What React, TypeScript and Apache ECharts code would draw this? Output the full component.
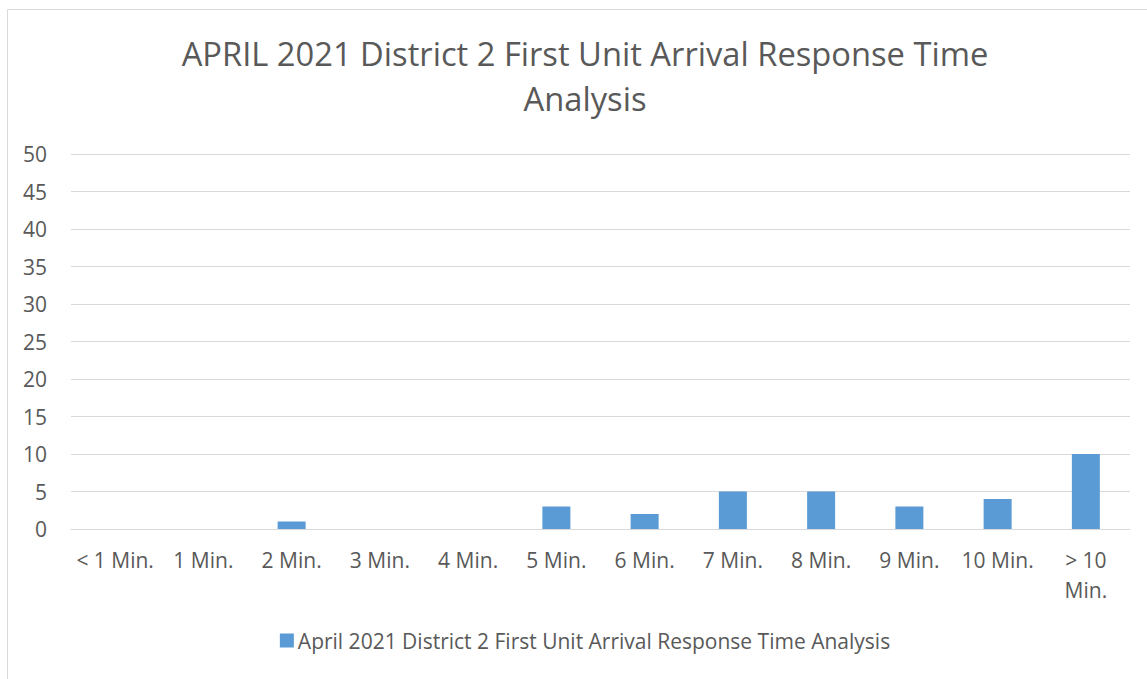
import React, { useEffect, useRef } from "react";
import * as echarts from "echarts";

const categories = ["< 1 Min.", "1 Min.", "2 Min.", "3 Min.", "4 Min.", "5 Min.", "6 Min.", "7 Min.", "8 Min.", "9 Min.", "10 Min.", "> 10 Min."];
const values = [0, 0, 1, 0, 0, 3, 2, 5, 5, 3, 4, 10];
const seriesName = "April 2021 District 2 First Unit Arrival Response Time Analysis";
const titleText = "APRIL 2021 District 2 First Unit Arrival Response Time\nAnalysis";

const FONT = "Open Sans";
const GREY = "#595959";
const W = 1170;

export default function App() {
  const ref = useRef<HTMLDivElement>(null);
  useEffect(() => {
    if (!ref.current) return;
    const chart = echarts.init(ref.current, undefined, { renderer: "svg" });
    chart.setOption({
      animation: false,
      backgroundColor: "#ffffff",
      graphic: [
        {
          type: "rect",
          shape: { x: 7.5, y: 9.5, width: 1180, height: 700 },
          style: { fill: "none", stroke: "#d9d9d9", lineWidth: 1 },
          silent: true,
        },
      ],
      title: {
        text: titleText,
        left: "center",
        top: 26,
        textStyle: { fontFamily: FONT, fontSize: 32.7, fontWeight: "normal", color: GREY, lineHeight: 45 },
      },
      grid: { left: 71, right: W - 1130, top: 154, bottom: 150, containLabel: false },
      legend: {
        bottom: 23,
        left: "center",
        itemWidth: 14,
        itemHeight: 14,
        itemGap: 5,
        icon: "rect",
        textStyle: { fontFamily: FONT, fontSize: 21, color: GREY, padding: [0, 0, 0, -1] },
        data: [seriesName],
      },
      xAxis: {
        type: "category",
        data: categories,
        axisLine: { lineStyle: { color: "#d9d9d9" } },
        axisTick: { show: false },
        axisLabel: {
          fontFamily: FONT,
          fontSize: 21,
          color: GREY,
          margin: 16,
          lineHeight: 30,
          interval: 0,
          formatter: (v: string) => (v === "> 10 Min." ? "> 10\nMin." : v),
        },
      },
      yAxis: {
        type: "value",
        min: 0,
        max: 50,
        interval: 5,
        axisLine: { show: false },
        axisTick: { show: false },
        splitLine: { lineStyle: { color: "#d9d9d9", width: 1 } },
        axisLabel: { fontFamily: FONT, fontSize: 21, color: GREY, margin: 24 },
      },
      series: [
        {
          name: seriesName,
          type: "bar",
          data: values,
          barWidth: 28,
          itemStyle: { color: "#5b9bd5" },
        },
      ],
    });
    return () => chart.dispose();
  }, []);
  return (
    <div style={{ position: "fixed", left: 0, top: 0, width: 1147, height: 679, overflow: "hidden" }}>
      <div ref={ref} style={{ width: W, height: 679 }} />
    </div>
  );
}
